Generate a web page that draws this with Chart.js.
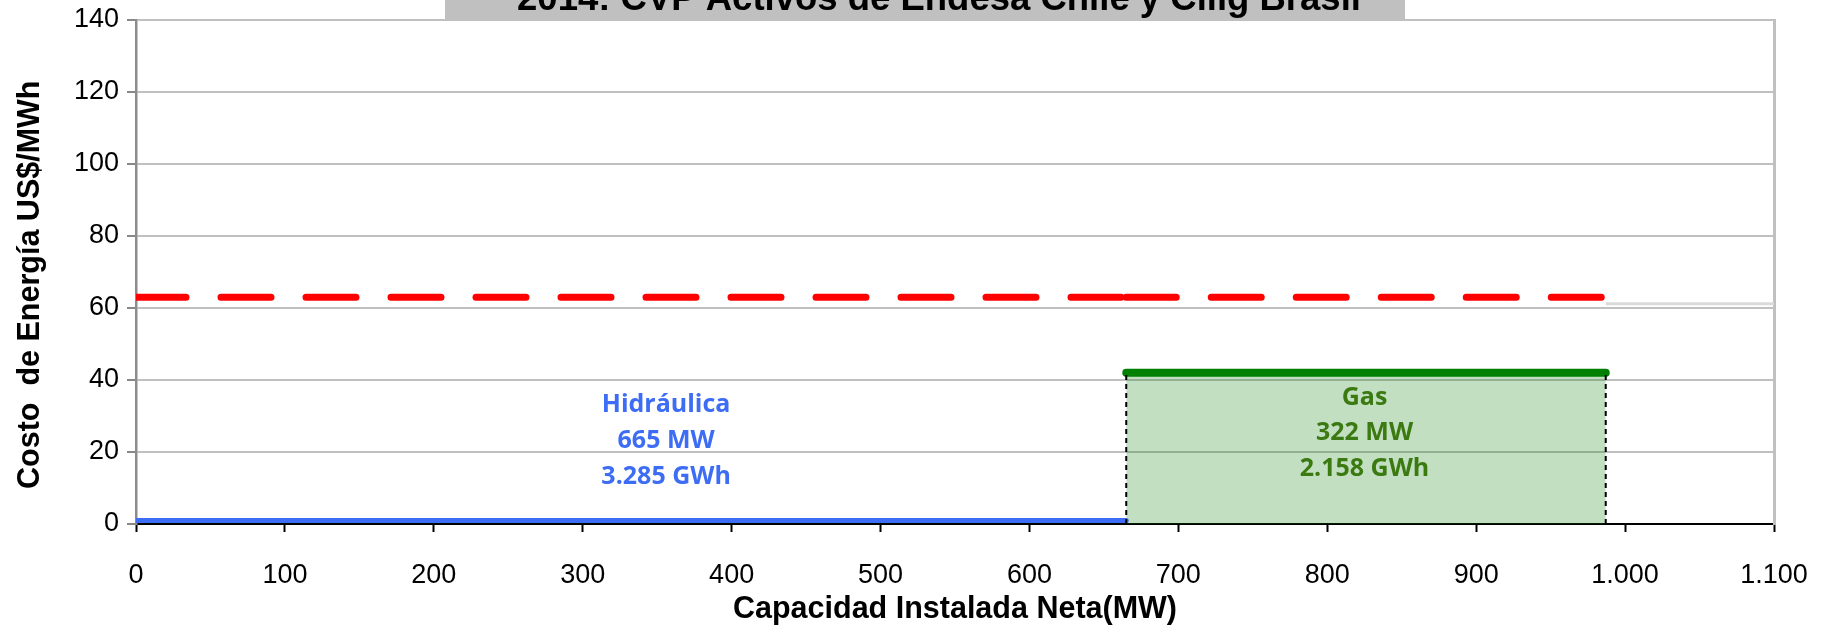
<!DOCTYPE html>
<html>
<head>
<meta charset="utf-8">
<script src="https://cdn.jsdelivr.net/npm/chart.js@4.4.1/dist/chart.umd.min.js"></script>
<style>
  html, body { margin: 0; padding: 0; background: #fff; }
  #wrap { width: 1829px; height: 629px; position: relative; }
</style>
</head>
<body>
<div id="wrap"><canvas id="cvpChart" width="1829" height="629"></canvas></div>
<script>
// capacity (MW) breakpoints and cost levels (US$/MWh)
const hydroX = [0, 665];
const hydroY = [1, 1];
const gasX = [665, 987];
const gasY = [42, 42];
const marginalX1 = [0, 665];
const marginalX2 = [665, 987];
const marginalY = [63, 63];
const greyX = [987, 1100];
const greyY = [61.2, 61.2];

const chartTitle = '2014: CVP Activos de Endesa Chile y Cilig Brasil';
const hydroLabel = ['Hidráulica', '665 MW', '3.285 GWh'];
const gasLabel = ['Gas', '322 MW', '2.158 GWh'];
const hydroLabelPos = { x: 356, y: [33, 23, 13] };
const gasLabelPos = { x: 825, y: [35, 25.2, 15.2] };

const fontAxis = '"Liberation Sans", Arial, sans-serif';

function pts(xs, ys) {
    return xs.map((x, i) => ({ x: x, y: ys[i] }));
}

const titleBox = {
    id: 'titleBox',
    afterDraw(chart) {
        const ctx = chart.ctx;
        ctx.save();
        ctx.fillStyle = '#c0c0c0';
        ctx.fillRect(445, 0, 960, 21);
        ctx.fillStyle = '#000';
        ctx.font = 'bold 36.5px ' + fontAxis;
        ctx.textAlign = 'center';
        ctx.textBaseline = 'alphabetic';
        ctx.fillText(chartTitle, 939, 9.5);
        ctx.restore();
    }
};

const areaLabels = {
    id: 'areaLabels',
    afterDatasetsDraw(chart) {
        const ctx = chart.ctx;
        const xs = chart.scales.x;
        const ys = chart.scales.y;
        ctx.save();
        ctx.font = 'bold 25px "Open Sans", sans-serif';
        ctx.textAlign = 'center';
        ctx.textBaseline = 'middle';
        ctx.fillStyle = '#3d6cf5';
        hydroLabel.forEach((t, i) => {
            ctx.fillText(t, xs.getPixelForValue(hydroLabelPos.x), ys.getPixelForValue(hydroLabelPos.y[i]));
        });
        ctx.fillStyle = '#3a7a10';
        gasLabel.forEach((t, i) => {
            ctx.fillText(t, xs.getPixelForValue(gasLabelPos.x), ys.getPixelForValue(gasLabelPos.y[i]));
        });
        ctx.restore();
    }
};

const ctx = document.getElementById('cvpChart').getContext('2d');
new Chart(ctx, {
    type: 'scatter',
    data: {
        datasets: [
            {
                label: 'Gas',
                data: pts(gasX, gasY),
                showLine: true,
                borderColor: '#008000',
                borderWidth: 8,
                borderCapStyle: 'round',
                backgroundColor: 'rgba(0,120,0,0.24)',
                fill: 'origin',
                pointRadius: 0,
                order: 5
            },
            {
                label: 'Hidráulica',
                data: pts(hydroX, hydroY),
                showLine: true,
                borderColor: '#3d6cf5',
                borderWidth: 5,
                borderCapStyle: 'round',
                pointRadius: 0,
                order: 4
            },
            {
                label: 'Límite 1',
                data: pts([hydroX[1], hydroX[1]], [0, gasY[0]]),
                showLine: true,
                borderColor: '#000',
                borderWidth: 2,
                borderDash: [5, 4],
                pointRadius: 0,
                order: 2
            },
            {
                label: 'Límite 2',
                data: pts([gasX[1], gasX[1]], [0, gasY[1]]),
                showLine: true,
                borderColor: '#000',
                borderWidth: 2,
                borderDash: [5, 4],
                pointRadius: 0,
                order: 2
            },
            {
                label: 'Costo marginal 1',
                data: pts(marginalX1, marginalY),
                showLine: true,
                borderColor: '#ff0000',
                borderWidth: 7,
                borderDash: [50, 35],
                borderCapStyle: 'round',
                pointRadius: 0,
                order: 1
            },
            {
                label: 'Costo marginal 2',
                data: pts(marginalX2, marginalY),
                showLine: true,
                borderColor: '#ff0000',
                borderWidth: 7,
                borderDash: [50, 35],
                borderCapStyle: 'round',
                pointRadius: 0,
                order: 1
            },
            {
                label: 'Resto',
                data: pts(greyX, greyY),
                showLine: true,
                borderColor: '#dadada',
                borderWidth: 3,
                pointRadius: 0,
                order: 6
            }
        ]
    },
    options: {
        responsive: false,
        animation: false,
        devicePixelRatio: 1,
        layout: { padding: { top: 20, right: 55, left: 0, bottom: 0 } },
        plugins: {
            legend: { display: false },
            tooltip: { enabled: false },
            title: { display: false }
        },
        scales: {
            x: {
                type: 'linear',
                min: 0,
                max: 1100,
                ticks: {
                    stepSize: 100,
                    color: '#000',
                    padding: 27,
                    font: { family: fontAxis, size: 27 },
                    callback: v => v.toLocaleString('de-DE')
                },
                grid: {
                    drawOnChartArea: false,
                    color: '#000',
                    tickLength: 8,
                    tickWidth: 2
                },
                border: { color: '#000', width: 2 },
                title: {
                    display: true,
                    text: 'Capacidad Instalada Neta(MW)',
                    color: '#000',
                    font: { family: fontAxis, size: 30.5, weight: 'bold' },
                    padding: { top: 0, bottom: 1 }
                },
                afterFit: s => {
                    s.height = 105;
                    s.paddingLeft = 0;
                    s.paddingRight = 0;
                }
            },
            y: {
                min: 0,
                max: 140,
                ticks: {
                    stepSize: 20,
                    color: '#000',
                    padding: 8,
                    font: { family: fontAxis, size: 27 }
                },
                grid: {
                    color: '#c0c0c0',
                    lineWidth: 2,
                    tickColor: '#888',
                    tickLength: 9,
                    tickWidth: 2
                },
                border: { color: '#8c8c8c', width: 2.5 },
                title: {
                    display: true,
                    text: 'Costo  de Energía US$/MWh   ',
                    color: '#000',
                    font: { family: fontAxis, size: 30.5, weight: 'bold' },
                    padding: { top: 12, bottom: 0 }
                },
                afterFit: s => {
                    s.width = 136;
                    s.paddingTop = 0;
                    s.paddingBottom = 0;
                }
            },
            y2: {
                position: 'right',
                min: 0,
                max: 140,
                ticks: { display: false },
                grid: { drawOnChartArea: false, drawTicks: false },
                border: { color: '#c0c0c0', width: 3 },
                afterFit: s => {
                    s.width = 0;
                    s.paddingTop = 0;
                    s.paddingBottom = 0;
                }
            }
        }
    },
    plugins: [areaLabels, titleBox]
});
</script>
</body>
</html>
